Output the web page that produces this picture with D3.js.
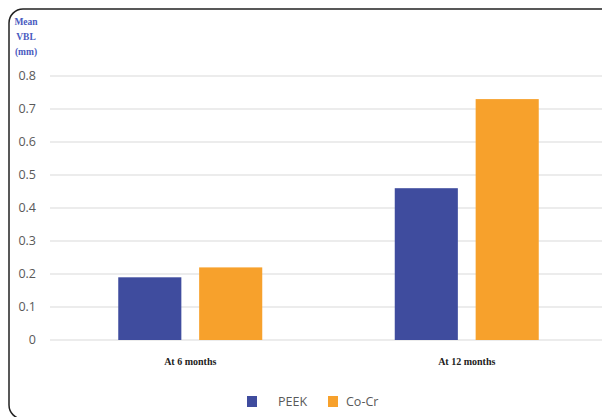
<!DOCTYPE html>
<html>
<head>
<meta charset="utf-8">
<script src="https://cdn.jsdelivr.net/npm/d3@7"></script>
<style>
  body { margin: 0; background: #fff; }
</style>
</head>
<body>
<div id="chart"></div>
<script>
var categories = ["At 6 months", "At 12 months"];
var seriesNames = ["PEEK", "Co-Cr"];
var peekValues = [0.19, 0.46];
var cocrValues = [0.22, 0.73];
var yTicks = [0, 0.1, 0.2, 0.3, 0.4, 0.5, 0.6, 0.7, 0.8];
var colors = ["#3f4c9e", "#f7a12c"];

var width = 602;
var height = 417;

var svg = d3.select("#chart")
    .append("svg")
    .attr("width", width)
    .attr("height", height);

// frame with rounded corners, cut off at right and bottom
svg.append("rect")
    .attr("x", 9)
    .attr("y", 9)
    .attr("width", 620)
    .attr("height", 410)
    .attr("rx", 14)
    .attr("fill", "none")
    .attr("stroke", "#222")
    .attr("stroke-width", 1.5);

var y = d3.scaleLinear().domain([0, 0.8]).range([340, 76]);

var x0 = d3.scaleBand().domain(categories).range([52, 605]);
var x1 = d3.scaleBand().domain(seriesNames)
    .range([x0.bandwidth() / 2 - 72, x0.bandwidth() / 2 + 72])
    .paddingInner(0.22);

// gridlines
svg.selectAll(".grid")
    .data(yTicks)
    .enter()
    .append("line")
    .attr("x1", 50)
    .attr("x2", width)
    .attr("y1", d => y(d))
    .attr("y2", d => y(d))
    .attr("stroke", "#d9d9d9")
    .attr("stroke-width", 1.2);

// y axis labels
svg.selectAll(".ytick")
    .data(yTicks)
    .enter()
    .append("text")
    .attr("x", 36)
    .attr("y", d => y(d))
    .attr("dy", "0.35em")
    .attr("text-anchor", "end")
    .attr("font-family", "Open Sans, sans-serif")
    .attr("font-size", 12.5)
    .attr("fill", "#595959")
    .text(d => d === 0 ? "0" : d3.format(".1f")(d));

// y title
svg.append("text")
    .attr("text-anchor", "middle")
    .attr("font-family", "Liberation Serif, serif")
    .attr("font-weight", "bold")
    .attr("font-size", 9.5)
    .attr("fill", "#4a5bc0")
    .selectAll("tspan")
    .data(["Mean", "VBL", "(mm)"])
    .enter()
    .append("tspan")
    .attr("x", 26)
    .attr("y", (d, i) => 24.5 + i * 15)
    .text(d => d);

var rows = categories.map(function(c, i) {
    return { category: c, values: [peekValues[i], cocrValues[i]] };
});

var groups = svg.selectAll(".group")
    .data(rows)
    .enter()
    .append("g")
    .attr("transform", d => "translate(" + x0(d.category) + ",0)");

groups.selectAll("rect")
    .data(d => d.values.map((v, i) => ({ key: seriesNames[i], value: v, idx: i })))
    .enter()
    .append("rect")
    .attr("x", d => x1(d.key))
    .attr("width", x1.bandwidth())
    .attr("y", d => y(d.value))
    .attr("height", d => y(0) - y(d.value))
    .attr("fill", d => colors[d.idx]);

// category labels
svg.selectAll(".cat")
    .data(categories)
    .enter()
    .append("text")
    .attr("x", d => x0(d) + x0.bandwidth() / 2)
    .attr("y", 365)
    .attr("text-anchor", "middle")
    .attr("font-family", "Liberation Serif, serif")
    .attr("font-weight", "bold")
    .attr("font-size", 10)
    .attr("fill", "#222")
    .text(d => d);

// legend
var legendX = [247, 328];
var legend = svg.selectAll(".legend")
    .data(seriesNames)
    .enter()
    .append("g")
    .attr("transform", (d, i) => "translate(" + legendX[i] + ",396)");

legend.append("rect")
    .attr("width", 10)
    .attr("height", 11)
    .attr("fill", (d, i) => colors[i]);

legend.append("text")
    .attr("x", (d, i) => i === 0 ? 31 : 18)
    .attr("y", 6)
    .attr("dy", "0.35em")
    .attr("font-family", "Open Sans, sans-serif")
    .attr("font-size", 12.5)
    .attr("fill", "#595959")
    .text(d => d);
</script>
</body>
</html>
